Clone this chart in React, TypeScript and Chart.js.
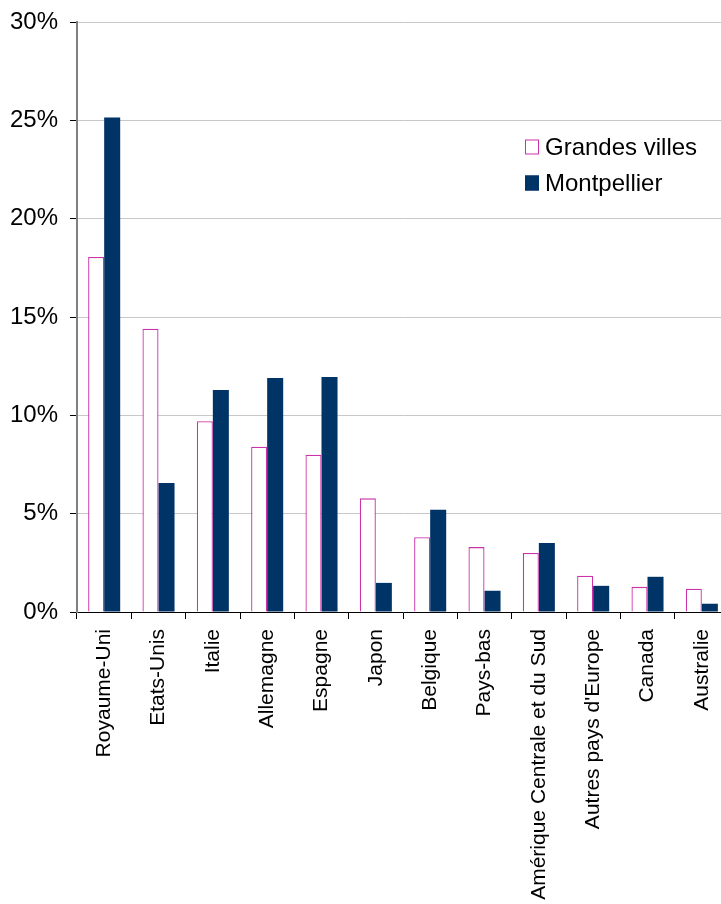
import React, { useEffect, useRef } from "react";
import { Chart, registerables } from "chart.js";

Chart.register(...registerables);

const categories = [
  "Royaume-Uni",
  "Etats-Unis",
  "Italie",
  "Allemagne",
  "Espagne",
  "Japon",
  "Belgique",
  "Pays-bas",
  "Amérique Centrale et du Sud",
  "Autres pays d'Europe",
  "Canada",
  "Australie",
];
const grandesVilles = [18.05, 14.4, 9.7, 8.4, 8.0, 5.78, 3.8, 3.3, 3.0, 1.84, 1.28, 1.18];
const montpellier = [25.15, 6.56, 11.29, 11.9, 11.95, 1.48, 5.2, 1.08, 3.51, 1.33, 1.79, 0.42];
const seriesNames = ["Grandes villes", "Montpellier"];

const PINK = "#CC33AA";
const NAVY = "#003366";
const FONT = "'Liberation Sans', Arial, sans-serif";

const legendPlugin = {
  id: "customLegend",
  afterDraw(chart: any) {
    const ctx = chart.ctx;
    ctx.save();
    ctx.font = `24px ${FONT}`;
    ctx.textBaseline = "middle";
    ctx.textAlign = "left";
    const items = [
      { label: seriesNames[0], fill: "#ffffff", stroke: PINK, y: 147 },
      { label: seriesNames[1], fill: NAVY, stroke: NAVY, y: 183 },
    ];
    for (const it of items) {
      ctx.fillStyle = it.fill;
      ctx.fillRect(525, it.y - 7.5, 14, 15);
      ctx.strokeStyle = it.stroke;
      ctx.lineWidth = 1;
      ctx.strokeRect(525.5, it.y - 7, 13, 14);
      ctx.fillStyle = "#000000";
      ctx.fillText(it.label, 545, it.y + 1);
    }
    ctx.restore();
  },
};

export default function App() {
  const ref = useRef<HTMLCanvasElement>(null);
  useEffect(() => {
    if (!ref.current) return;
    const chart = new Chart(ref.current, {
      type: "bar",
      data: {
        labels: categories,
        datasets: [
          {
            label: seriesNames[0],
            data: grandesVilles,
            backgroundColor: "#ffffff",
            borderColor: PINK,
            borderWidth: 1.3,
            categoryPercentage: 0.59,
            barPercentage: 1,
          },
          {
            label: seriesNames[1],
            data: montpellier,
            backgroundColor: NAVY,
            borderWidth: 0,
            categoryPercentage: 0.59,
            barPercentage: 1,
          },
        ],
      },
      options: {
        animation: false,
        responsive: false,
        maintainAspectRatio: false,
        layout: { padding: { top: 22, left: 0, right: 0, bottom: 0 } },
        plugins: {
          legend: { display: false },
          tooltip: { enabled: false },
        },
        scales: {
          x: {
            offset: true,
            grid: {
              display: true,
              drawOnChartArea: false,
              drawTicks: true,
              tickLength: 7,
              offset: true,
              color: "#000000",
              tickColor: "#000000",
            },
            border: { display: true, color: "#000000", width: 1 },
            ticks: {
              minRotation: 90,
              maxRotation: 90,
              autoSkip: false,
              padding: 10,
              color: "#000000",
              font: { family: FONT, size: 21 },
            },
            afterFit: (scale: any) => {
              scale.height = 292;
              scale.paddingLeft = 0;
              scale.paddingRight = 0;
            },
          },
          y: {
            min: 0,
            max: 30,
            grid: {
              color: "#C8C8C8",
              lineWidth: 1,
              tickLength: 7,
              tickColor: "#000000",
            },
            border: { display: true, color: "#808080", width: 2 },
            ticks: {
              stepSize: 5,
              padding: 12,
              color: "#000000",
              font: { family: FONT, size: 24 },
              callback: (v: any) => `${v}%`,
            },
            afterFit: (scale: any) => {
              scale.width = 77;
              scale.paddingTop = 0;
              scale.paddingBottom = 0;
            },
          },
        },
      },
      plugins: [legendPlugin],
    });
    return () => chart.destroy();
  }, []);

  return (
    <div
      style={{
        position: "absolute",
        left: 0,
        top: 0,
        width: 721,
        height: 904,
        overflow: "hidden",
        background: "#ffffff",
      }}
    >
      <canvas ref={ref} width={729} height={904} style={{ display: "block" }} />
    </div>
  );
}
